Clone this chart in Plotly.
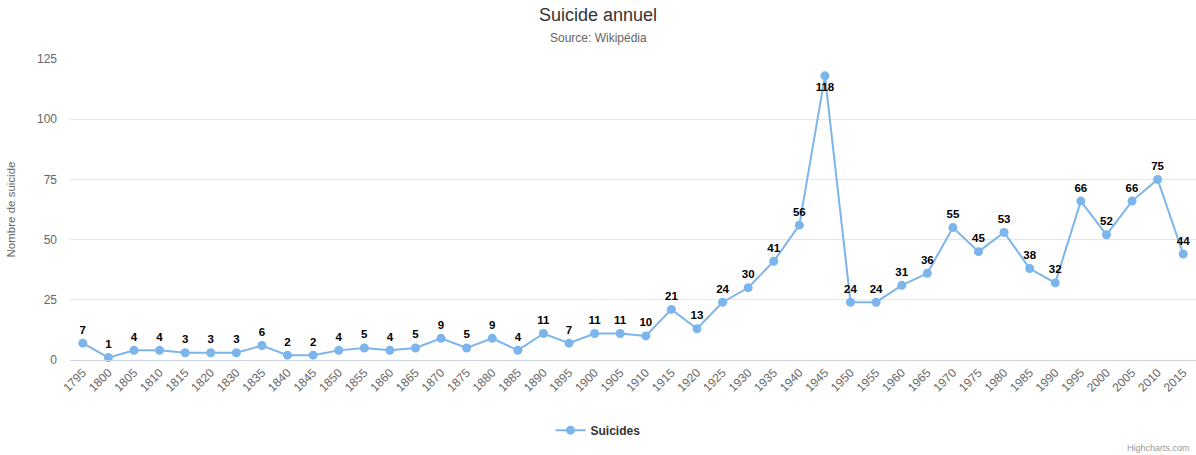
import plotly.graph_objects as go

years = ["1795", "1800", "1805", "1810", "1815", "1820", "1830", "1835", "1840", "1845",
         "1850", "1855", "1860", "1865", "1870", "1875", "1880", "1885", "1890", "1895",
         "1900", "1905", "1910", "1915", "1920", "1925", "1930", "1935", "1940", "1945",
         "1950", "1955", "1960", "1965", "1970", "1975", "1980", "1985", "1990", "1995",
         "2000", "2005", "2010", "2015"]
suicides = [7, 1, 4, 4, 3, 3, 3, 6, 2, 2,
            4, 5, 4, 5, 9, 5, 9, 4, 11, 7,
            11, 11, 10, 21, 13, 24, 30, 41, 56, 118,
            24, 24, 31, 36, 55, 45, 53, 38, 32, 66,
            52, 66, 75, 44]
series_name = "Suicides"
title = "Suicide annuel"
subtitle = "Source: Wikipédia"
y_title = "Nombre de suicide"
y_ticks = [0, 25, 50, 75, 100, 125]

positions = ["bottom center" if v > 110 else "top center" for v in suicides]

font = "Arial, Liberation Sans, sans-serif"

fig = go.Figure()
fig.add_trace(go.Scatter(
    x=years, y=suicides, name="<b>" + series_name + "</b>", mode="lines+markers+text",
    text=[str(v) for v in suicides], textposition=positions,
    textfont=dict(family=font, size=11.5, color="#000000"),
    texttemplate="<b>%{text}</b>",
    line=dict(color="#7cb5ec", width=2),
    marker=dict(color="#7cb5ec", size=9),
    cliponaxis=False,
))

cx = (598 - 70) / 1126
fig.update_layout(
    template="none",
    width=1196, height=455,
    margin=dict(l=70, r=0, t=59, b=95, pad=0),
    paper_bgcolor="white", plot_bgcolor="white",
    font=dict(family=font, color="#666666", size=12),
    showlegend=True,
    legend=dict(orientation="h", x=cx, xanchor="center", y=-0.233, yanchor="middle",
                font=dict(size=12, color="#333333", family=font)),
    xaxis=dict(type="category", tickangle=-45, showgrid=False,
               showline=True, linecolor="#ccd6eb", linewidth=1, zeroline=False,
               ticks="", tickfont=dict(size=12, color="#666666"),
               range=[-0.5, len(years) - 0.5]),
    yaxis=dict(range=[0, 125], tickvals=y_ticks, showgrid=True, gridcolor="#e6e6e6",
               gridwidth=1, zeroline=False, showline=False, ticks="", ticklabelstandoff=12,
               tickfont=dict(size=12, color="#666666"),
               title=dict(text=y_title, font=dict(size=11.5, color="#666666"), standoff=18)),
    annotations=[
        dict(text=title, xref="paper", yref="paper", x=cx, y=1, yshift=44, yanchor="middle",
             showarrow=False, font=dict(size=18, color="#333333", family=font), xanchor="center"),
        dict(text=subtitle, xref="paper", yref="paper", x=cx, y=1, yshift=21, yanchor="middle",
             showarrow=False, font=dict(size=12, color="#666666", family=font), xanchor="center"),
        dict(text="Highcharts.com", xref="paper", yref="paper", x=1, y=0, yshift=-88,
             xshift=-4, yanchor="middle",
             xanchor="right", showarrow=False, font=dict(size=9, color="#999999", family=font)),
    ],
)
fig.write_html("out.html", config={"displayModeBar": False},
               post_script="document.body.style.margin='0';document.body.style.overflow='hidden';")
